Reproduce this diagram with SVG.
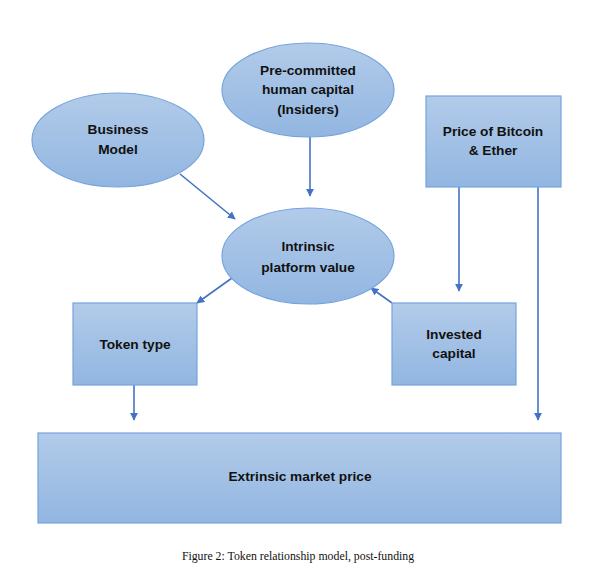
<svg xmlns="http://www.w3.org/2000/svg" width="592" height="574" viewBox="0 0 592 574">
<defs>
<linearGradient id="g" x1="0" y1="0" x2="0" y2="1">
<stop offset="0" stop-color="#b2cbe9"/>
<stop offset="1" stop-color="#92b6e1"/>
</linearGradient>
<marker id="ah" viewBox="0 0 10 10" refX="9" refY="5" markerWidth="8" markerHeight="8" markerUnits="userSpaceOnUse" orient="auto">
<path d="M0,0 L10,5 L0,10 z" fill="#4472c4"/>
</marker>
<style>
.s{fill:url(#g);stroke:#75a4dc;stroke-width:1.2}
.t{font-family:"Liberation Sans",Arial,sans-serif;font-weight:bold;font-size:13.7px;fill:#111;text-anchor:middle}
.c{stroke:#4472c4;stroke-width:1.6;fill:none;marker-end:url(#ah)}
.cap{font-family:"Liberation Serif","Times New Roman",serif;font-size:11.8px;fill:#111;text-anchor:middle}
</style>
</defs>
<rect width="592" height="574" fill="#fff"/>
<g id="connectors">
<line class="c" x1="180" y1="174" x2="235" y2="219"/>
<line class="c" x1="310" y1="137" x2="310" y2="196"/>
<line class="c" x1="459" y1="187" x2="459" y2="291"/>
<line class="c" x1="538" y1="187" x2="538" y2="420"/>
<line class="c" x1="232" y1="278" x2="197" y2="303"/>
<line class="c" x1="392" y1="303" x2="371" y2="288"/>
<line class="c" x1="134" y1="385" x2="134" y2="420"/>
</g>
<g id="business-model">
<ellipse class="s" cx="118" cy="140" rx="86" ry="47"/>
<text class="t" x="118" y="134">Business</text>
<text class="t" x="118" y="154">Model</text>
</g>
<g id="pre-committed">
<ellipse class="s" cx="308" cy="90" rx="86" ry="47"/>
<text class="t" x="308" y="75">Pre-committed</text>
<text class="t" x="308" y="94">human capital</text>
<text class="t" x="308" y="114">(Insiders)</text>
</g>
<g id="price-bitcoin-ether">
<rect class="s" x="426" y="96" width="135" height="91"/>
<text class="t" x="493" y="136">Price of Bitcoin</text>
<text class="t" x="493" y="155">&amp; Ether</text>
</g>
<g id="intrinsic">
<ellipse class="s" cx="308" cy="256" rx="86" ry="48"/>
<text class="t" x="308" y="251">Intrinsic</text>
<text class="t" x="308" y="272">platform value</text>
</g>
<g id="token-type">
<rect class="s" x="73" y="303" width="124" height="82"/>
<text class="t" x="135" y="349">Token type</text>
</g>
<g id="invested-capital">
<rect class="s" x="392" y="303" width="124" height="82"/>
<text class="t" x="454" y="339">Invested</text>
<text class="t" x="454" y="358">capital</text>
</g>
<g id="extrinsic">
<rect class="s" x="38" y="433" width="523" height="90"/>
<text class="t" x="300" y="481">Extrinsic  market price</text>
</g>
<text class="cap" x="298" y="560">Figure 2: Token relationship model, post-funding</text>
</svg>
